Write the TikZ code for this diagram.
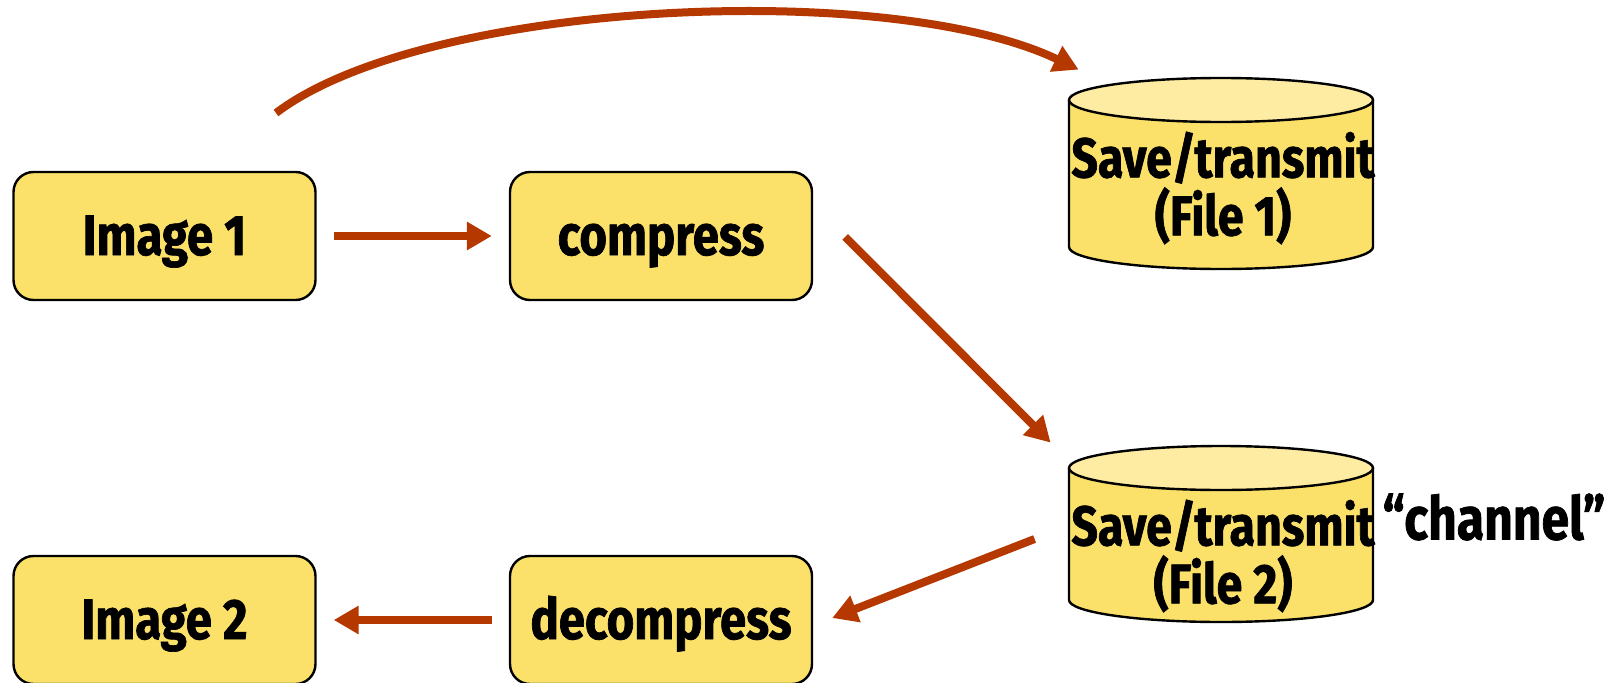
\documentclass[tikz,border=0pt]{standalone}
\usepackage{fontspec}
\newfontfamily\hand{Fira Sans}[FakeStretch=0.83,FakeBold=1.2,Ligatures=TeX]
\usetikzlibrary{arrows.meta,calc}
\definecolor{boxfill}{RGB}{251,225,106}
\definecolor{topfill}{RGB}{253,236,162}
\definecolor{arrowc}{RGB}{180,56,0}
\begin{document}
\begin{tikzpicture}[x=0.5pt,y=0.5pt,
  procbox/.style={draw=black,line width=1.2pt,fill=boxfill,rounded corners=10pt,
    minimum width=151pt,minimum height=64pt,inner sep=0pt,text height=19pt,text depth=0pt,
    font=\hand\bfseries\fontsize{28.5}{30}\selectfont},
  cylarea/.style={inner sep=0pt,minimum width=152pt},
  cyltext/.style={inner sep=0pt,align=center,
    font=\hand\bfseries\fontsize{28}{29}\selectfont},
  arr/.style={draw=arrowc,line width=4pt,-{Triangle[length=12.5pt,width=13.5pt]}}]
\useasboundingbox (0,0) rectangle (1615,682);
\begin{scope}
\clip (0,0) rectangle (1615,682);
% boxes
\node[procbox] (img1) at (164.5,446) {Image 1};
\node[procbox] (comp) at (661,446) {compress};
\node[procbox] (img2) at (164.5,62) {Image 2};
\node[procbox] (decomp) at (661,62) {decompress};
% cylinder 1
\fill[boxfill] (1069,435) rectangle (1373,582);
\fill[boxfill] (1221,435) ellipse (152 and 22);
\draw[line width=1.2pt] (1069,582) -- (1069,435) arc (180:360:152 and 22) -- (1373,582);
\draw[line width=1.2pt,fill=topfill] (1221,582) ellipse (152 and 22);
% cylinder 2
\fill[boxfill] (1069,82) rectangle (1373,214);
\fill[boxfill] (1221,82) ellipse (152 and 22);
\draw[line width=1.2pt] (1069,214) -- (1069,82) arc (180:360:152 and 22) -- (1373,214);
\draw[line width=1.2pt,fill=topfill] (1221,214) ellipse (152 and 22);
\end{scope}
\node[cylarea,minimum height=95.5pt] (cyl1) at (1221,509.5) {};
\node[cylarea,minimum height=89pt] (cyl2) at (1221,148) {};
\node[cyltext] (file1) at (1223,494) {Save/transmit\\(File 1)};
\node[cyltext] (file2) at (1223,126) {Save/transmit\\(File 2)};
\node[inner sep=0pt,font=\hand\bfseries\fontsize{30}{30}\selectfont,anchor=west] (chan) at (1382,165) {“channel”};
% connectors
\coordinate (arcstart) at (276,569);
\draw[arr] ([xshift=8.5pt]img1.east) -- ([xshift=-8.5pt]comp.west);
\draw[arr] ([xshift=16pt,yshift=-0.5pt]comp.east) -- ([xshift=-9pt,yshift=1pt]cyl2.north west);
\draw[arr] ([xshift=-17pt,yshift=-2.5pt]cyl2.west) -- ([xshift=9.5pt,yshift=1pt]decomp.east);
\draw[arr] ([xshift=-8.5pt]decomp.west) -- ([xshift=8.5pt]img2.east);
\draw[arr] (arcstart) .. controls (425,682) and (890,703) .. ([xshift=5pt,yshift=3.5pt]cyl1.north west);
\end{tikzpicture}
\end{document}
